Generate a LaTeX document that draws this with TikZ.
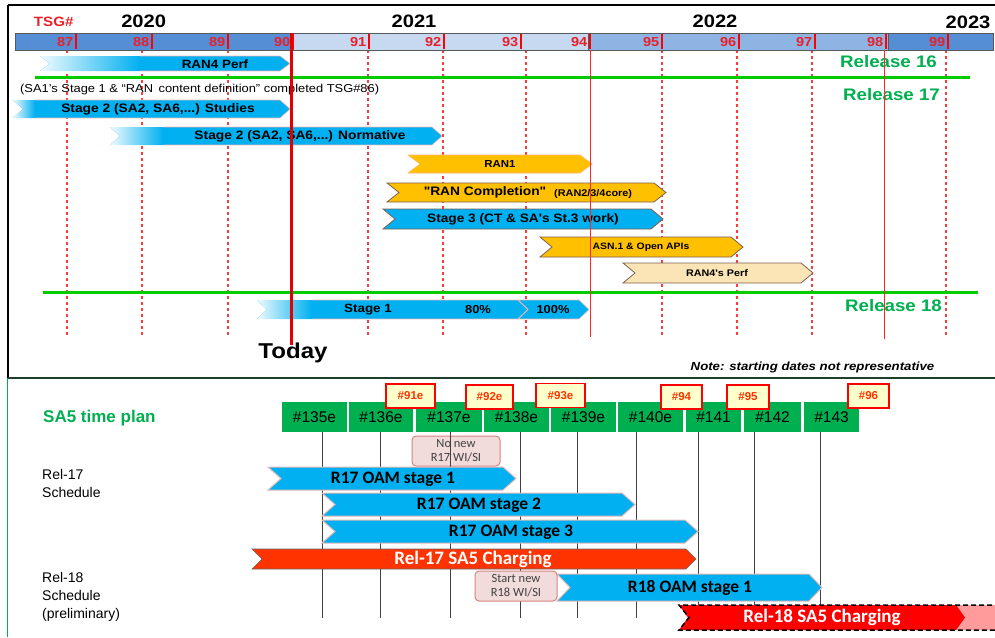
\documentclass[tikz,border=0pt]{standalone}
\usepackage{fontspec}
\setmainfont{Liberation Sans}
\newfontfamily\topf[FakeStretch=1.12]{Liberation Sans}
\newfontfamily\calib{Carlito}
\definecolor{tdark}{HTML}{558ED5}
\definecolor{tlight}{HTML}{C6D9F1}
\definecolor{tmid}{HTML}{8EB4E3}
\definecolor{tickred}{HTML}{FF0000}
\definecolor{numred}{HTML}{E8202A}
\definecolor{dashred}{HTML}{FF3B3B}
\definecolor{relgreen}{HTML}{00CC00}
\definecolor{reltext}{HTML}{00B050}
\definecolor{barblue}{HTML}{00B0F0}
\definecolor{barorange}{HTML}{FFC000}
\definecolor{barcream}{HTML}{FBE5B6}
\definecolor{barbrown}{HTML}{7F6050}
\definecolor{pinkline}{HTML}{E6B9B8}
\definecolor{meetgreen}{HTML}{00B050}
\definecolor{tagfill}{HTML}{FFFFCC}
\definecolor{tagtext}{HTML}{FF3300}
\definecolor{chargeA}{HTML}{FF3300}
\definecolor{chargeB}{HTML}{FF0000}
\definecolor{chargeC}{HTML}{FF9B9B}
\definecolor{boxpink}{HTML}{F2DCDB}
\definecolor{boxline}{HTML}{C0504D}
\definecolor{panelline}{HTML}{1F3F2A}
\newcommand{\chev}[6]{\path[#1] (#2,#4) -- ({#3-#6},#4) -- (#3,{(#4+#5)/2}) -- ({#3-#6},#5) -- (#2,#5) -- ({#2+#6},{(#4+#5)/2}) -- cycle;}
\newcommand{\fadechev}[6]{%
 \begin{scope}
 \clip (#1,#3) -- ({#2-#5},#3) -- (#2,{(#3+#4)/2}) -- ({#2-#5},#4) -- (#1,#4) -- ({#1+#5},{(#3+#4)/2}) -- cycle;
 \fill[barblue] (#1,#3) rectangle (#2,#4);
 \shade[left color=barblue!6,right color=barblue] (#1,#3) rectangle (#6,#4);
 \end{scope}
 \draw[pinkline,line width=0.6pt] (#6,#3) -- ({#2-#5},#3) -- (#2,{(#3+#4)/2}) -- ({#2-#5},#4) -- (#6,#4);}
\tikzset{
 toptxt/.style={font=\topf\bfseries\fontsize{#1}{#1}\selectfont, inner sep=0pt},
 toptxt/.default=12,
 numtxt/.style={font=\topf\bfseries\fontsize{13}{13}\selectfont, text=numred, inner sep=0pt, anchor=east},
 dashline/.style={dashred, line width=1.2pt, dash pattern=on 3pt off 3pt},
 relline/.style={relgreen, line width=3pt},
 reltxt/.style={font=\topf\bfseries\fontsize{16.7}{16.7}\selectfont, text=reltext, inner sep=0pt},
 meet/.style={fill=meetgreen, minimum height=30pt, inner sep=0pt, font=\fontsize{15.5}{15.5}\selectfont},
 tag/.style={fill=tagfill, draw=red, line width=1.8pt, minimum height=24pt, inner sep=0pt, text=tagtext, font=\bfseries\fontsize{11.5}{11.5}\selectfont},
 pinkbox/.style={fill=boxpink, draw=boxline!70, line width=1pt, rounded corners=4pt, minimum height=30pt, inner sep=0pt, align=center, text=black!75, font=\calib\fontsize{12.5}{14}\selectfont},
 bartxt/.style={font=\calib\bfseries\fontsize{17.5}{17.5}\selectfont, inner sep=0pt},
 chgtxt/.style={font=\calib\bfseries\fontsize{19}{19}\selectfont, text=white, inner sep=0pt},
 sidetxt/.style={font=\fontsize{14}{18}\selectfont, align=left, anchor=west, inner sep=0pt},
 mline/.style={black!75, line width=1pt}
}
\begin{document}
\begin{tikzpicture}[x=1pt,y=-1pt]
\useasboundingbox (0,0) rectangle (995,637);
\fill[white] (0,0) rectangle (995,637);

% ---------- top panel frame
\draw[line width=1.2pt] (8,5) -- (995,5);
\draw[line width=1.2pt] (8,5) -- (8,378);

% dashed TSG lines
\foreach \x in {67,142,228,368,443,526,662,737,812,946}
  \draw[dashline] (\x,50) -- (\x,337);

% release lines
\draw[relline] (35,77) -- (970,77);
\draw[relline] (43,292) -- (978,292);

% ---------- top bars
\fadechev{40}{290}{56}{71}{10}{140}
\node[toptxt=12] (ran4perf) at (215,64) {RAN4 Perf};

\fadechev{13}{290}{100}{118}{10}{35}
\node[toptxt=12.3] (s2stud) at (158,109) {Stage 2 (SA2, SA6,...) Studies};

\fadechev{110}{442}{127}{145}{10}{163}
\node[toptxt=12.3] (s2norm) at (300,136) {Stage 2 (SA2, SA6,...) Normative};

\chev{fill=barorange, draw=barorange!70!red!60, line width=0.6pt}{408}{592}{155}{173}{12}
\node[toptxt=10.2] (ran1) at (500,164) {RAN1};

\chev{fill=barorange, draw=barbrown, line width=0.8pt}{387}{666}{183}{202}{12}
\node[toptxt=12.3] (rancomp) at (485,192.5) {"RAN Completion"};
\node[toptxt=9.7, anchor=west] (rancomp2) at (554,193.5) {(RAN2/3/4core)};

\chev{fill=barblue, draw=barbrown, line width=0.8pt}{383}{663}{209}{229}{12}
\node[toptxt=12.2] (stage3) at (523,219.5) {Stage 3 (CT \& SA's St.3 work)};

\chev{fill=barorange, draw=barbrown, line width=0.8pt}{540}{743}{237}{257}{12}
\node[toptxt=9.3] (asn) at (641,247) {ASN.1 \& Open APIs};

\chev{fill=barcream, draw=barbrown, line width=0.8pt}{623}{813}{263}{283}{12}
\node[toptxt=9.6] (ran4sperf) at (717,273) {RAN4's Perf};

\fadechev{257}{589}{300}{319}{10}{312}
\draw[pinkline, line width=1pt] (518,300) -- (528,309.5) -- (518,319);
\node[toptxt=12] (stage1) at (368,309.5) {Stage 1};
\node[toptxt=11.5] (p80) at (478,309.5) {80\%};
\node[toptxt=11.5] (p100) at (553,309.5) {100\%};

% ---------- top texts
\node[font=\topf\fontsize{11.5}{11.5}\selectfont, inner sep=0pt, anchor=west] (sa1)
  at (20,89.5) {(SA1’s Stage 1 \& “RAN\, content definition” completed TSG\#86)};
\node[reltxt] (rel16) at (888.5,62) {Release 16};
\node[reltxt] (rel17) at (891.5,94.5) {Release 17};
\node[reltxt] (rel18) at (893.5,306) {Release 18};
\node[toptxt=21.5] (today) at (293,353) {Today};
\node[font=\topf\bfseries\itshape\fontsize{11.8}{11.8}\selectfont, inner sep=0pt] (note)
  at (812.5,367) {Note: starting dates not representative};

% ---------- timeline bar
\draw[fill=tdark, draw=black!65, line width=0.8pt] (15,33) rectangle (293,50);
\draw[fill=tlight, draw=black!65, line width=0.8pt] (293,33) rectangle (588,50);
\draw[fill=tmid, draw=black!65, line width=0.8pt] (588,33) rectangle (888,50);
\draw[fill=tdark, draw=black!65, line width=0.8pt] (888,33) rectangle (993,50);
\foreach \x/\n in {76/87,152/88,228/89,293/90,369/91,444/92,521/93,590/94,662/95,739/96,815/97,886/98,948/99}{
  \draw[tickred, line width=2.2pt] (\x,34) -- (\x,49);
  \node[numtxt] (tsg\n) at ({\x-2.5},42.5) {\n};
}
\node[font=\topf\bfseries\fontsize{13.5}{13.5}\selectfont, text=numred, inner sep=0pt] (tsglabel) at (53.7,22) {TSG\#};
\node[toptxt=18] (y2020) at (143.7,21.5) {2020};
\node[toptxt=18] (y2021) at (414,21.5) {2021};
\node[toptxt=18] (y2022) at (715,21.5) {2022};
\node[toptxt=18] (y2023) at (968,22.5) {2023};

% solid red lines
\draw[red!85, line width=1pt] (590,50) -- (590,337);
\draw[red!85, line width=1pt] (884,50) -- (884,339);
\draw[red!90!black, line width=3pt] (291,33) -- (291,345);

% ---------- bottom panel
\draw[line width=1.8pt, panelline] (8,378) -- (995,378);
\draw[meetgreen, line width=1pt] (7,378) -- (7,637);

\node[font=\bfseries\fontsize{17}{17}\selectfont, text=reltext, inner sep=0pt, anchor=west] (sa5) at (43,418) {SA5 time plan};

\node[meet, minimum width=65pt] (m135) at (314.5,417) {\#135e};
\node[meet, minimum width=64pt] (m136) at (381,417) {\#136e};
\node[meet, minimum width=66pt] (m137) at (449,417) {\#137e};
\node[meet, minimum width=65pt] (m138) at (516.5,417) {\#138e};
\node[meet, minimum width=65pt] (m139) at (583.5,417) {\#139e};
\node[meet, minimum width=65pt] (m140) at (650.5,417) {\#140e};
\node[meet, minimum width=55pt] (m141) at (713.5,417) {\#141};
\node[meet, minimum width=57pt] (m142) at (772.5,417) {\#142};
\node[meet, minimum width=55pt] (m143) at (831.5,417) {\#143};

\node[tag, minimum width=49pt] (t91) at (410.5,396) {\#91e};
\node[tag, minimum width=47pt] (t92) at (489.5,397) {\#92e};
\node[tag, minimum width=49pt] (t93) at (560.5,395.5) {\#93e};
\node[tag, minimum width=41pt] (t94) at (681.5,397) {\#94};
\node[tag, minimum width=42pt] (t95) at (748,397) {\#95};
\node[tag, minimum width=41pt] (t96) at (868.5,396) {\#96};

\node[pinkbox, minimum width=88pt] (nonew) at (456,451) {No new\\R17 WI/SI};

\foreach \x in {322,380,450,520,577,636,698,754,820}
  \draw[mline] (\x,432) -- (\x,618);

\node[sidetxt] (r17s) at (42,483) {Rel-17\\Schedule};
\node[sidetxt] (r18s) at (42,597) {Rel-18\\Schedule\\(preliminary)};

\chev{fill=barblue, draw=pinkline, line width=1pt}{268}{516}{467}{490}{13}
\node[bartxt] (oam1) at (393,479) {R17 OAM stage 1};
\chev{fill=barblue, draw=pinkline, line width=1pt}{322}{635}{493}{516}{13}
\node[bartxt] (oam2) at (479,505.5) {R17 OAM stage 2};
\chev{fill=barblue, draw=pinkline, line width=1pt}{322}{698}{520}{543}{13}
\node[bartxt] (oam3) at (511,532) {R17 OAM stage 3};
\chev{fill=chargeA, draw=black!60, line width=0.6pt}{252}{696}{549}{569}{10}
\node[chgtxt] (chg17) at (473,559) {Rel-17 SA5 Charging};

\chev{fill=barblue, draw=pinkline, line width=1pt}{557}{822}{574}{601}{13}
\node[bartxt] (oam18) at (690,588) {R18 OAM stage 1};
\node[pinkbox, minimum width=82pt] (startnew) at (516,586) {Start new\\R18 WI/SI};

\path[fill=chargeC] (679,605) -- (1000,605) -- (1000,630) -- (679,630) -- (689,617.5) -- cycle;
\chev{fill=chargeB}{679}{965}{605}{630}{9}
\draw[line width=1.5pt, dash pattern=on 5pt off 3pt] (1000,605) -- (679,605) -- (689,617.5) -- (679,630) -- (1000,630);
\node[chgtxt] (chg18) at (822,617) {Rel-18 SA5 Charging};
\end{tikzpicture}
\end{document}
